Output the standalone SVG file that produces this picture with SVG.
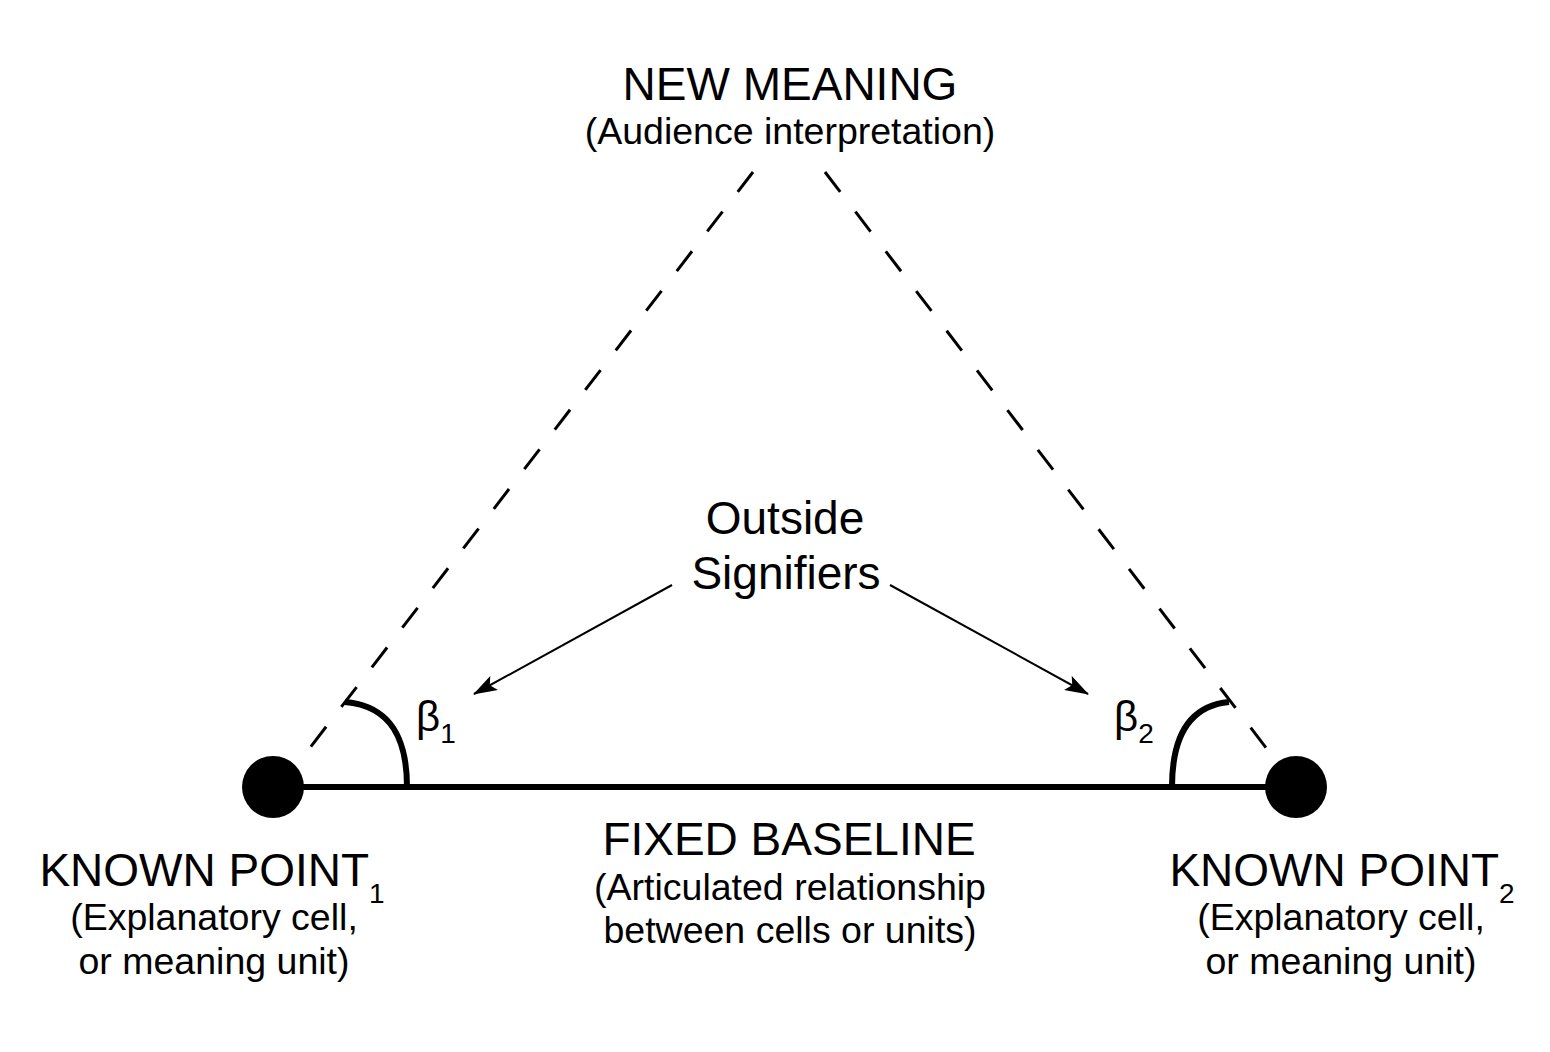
<svg xmlns="http://www.w3.org/2000/svg" width="1550" height="1052" viewBox="0 0 1550 1052">
<defs>
<style>
text{font-family:"Liberation Sans",Arial,sans-serif;fill:#000;text-anchor:middle}
.t{font-size:46px}
.s{font-size:37.5px}
.sub{font-size:28px}
.dash{stroke:#000;stroke-width:3;fill:none;stroke-dasharray:25 25}
.thick{stroke:#000;stroke-width:6;fill:none}
.arr{stroke:#000;stroke-width:2;fill:none;marker-end:url(#ah)}
</style>
<marker id="ah" viewBox="0 0 24 16" refX="23" refY="8" markerWidth="24" markerHeight="16" markerUnits="userSpaceOnUse" orient="auto">
<path d="M0,0 L24,8 L0,16 L5,8 z" fill="#000"/>
</marker>
</defs>
<rect width="1550" height="1052" fill="#fff"/>
<g id="connectors">
<line class="dash" x1="753" y1="172" x2="309" y2="749"/>
<line class="dash" x1="825" y1="172" x2="1267" y2="749"/>
<line class="thick" x1="273" y1="787" x2="1296" y2="787"/>
<path class="thick" d="M407,787 C407,740 392,706 345,702"/>
<path class="thick" d="M1172,787 C1172,740 1187,706 1229,702"/>
<line class="arr" x1="672" y1="585" x2="474" y2="694"/>
<line class="arr" x1="890" y1="585" x2="1088" y2="694"/>
</g>
<g id="new-meaning">
<text class="t" x="790" y="100">NEW MEANING</text>
<text class="s" x="790" y="144">(Audience interpretation)</text>
</g>
<g id="outside-signifiers">
<text class="t" x="785" y="534">Outside</text>
<text class="t" x="786" y="589">Signifiers</text>
</g>
<g id="beta1">
<text x="416" y="731" style="font-size:42px;text-anchor:start">β<tspan class="sub" dy="12">1</tspan></text>
</g>
<g id="beta2">
<text x="1114" y="731" style="font-size:42px;text-anchor:start">β<tspan class="sub" dy="12">2</tspan></text>
</g>
<g id="known-point-1">
<circle cx="273" cy="787" r="31" fill="#000"/>
<text class="t" x="212" y="886">KNOWN POINT<tspan class="sub" dy="17">1</tspan></text>
<text class="s" x="214" y="930">(Explanatory cell,</text>
<text class="s" x="214" y="974">or meaning unit)</text>
</g>
<g id="known-point-2">
<circle cx="1296" cy="787" r="31" fill="#000"/>
<text class="t" x="1342" y="886">KNOWN POINT<tspan class="sub" dy="17">2</tspan></text>
<text class="s" x="1341" y="930">(Explanatory cell,</text>
<text class="s" x="1341" y="974">or meaning unit)</text>
</g>
<g id="fixed-baseline">
<text class="t" x="789" y="855">FIXED BASELINE</text>
<text class="s" x="790" y="900">(Articulated relationship</text>
<text class="s" x="790" y="943">between cells or units)</text>
</g>
</svg>
